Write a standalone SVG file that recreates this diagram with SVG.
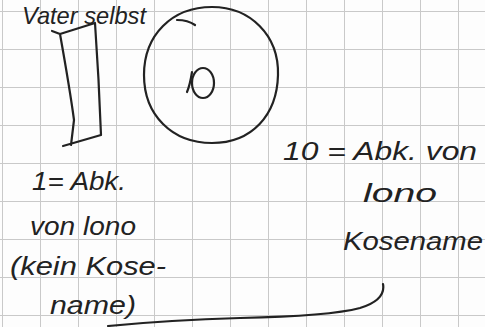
<svg xmlns="http://www.w3.org/2000/svg" width="485" height="327" viewBox="0 0 485 327">
<defs>
<pattern id="grid" x="2" y="11" width="38" height="38" patternUnits="userSpaceOnUse">
<path d="M0 0H38M0 0V38" fill="none" stroke="#c9c9c9" stroke-width="2"/>
</pattern>
<style>
.ink{fill:none;stroke:#222;stroke-width:2.2;stroke-linecap:round;stroke-linejoin:round}
.t{font-family:"Liberation Sans","DejaVu Sans",sans-serif;font-size:26px;fill:#222;font-style:italic}
</style>
</defs>
<rect width="485" height="327" fill="#fdfdfd"/>
<rect width="485" height="327" fill="url(#grid)"/>
<g id="title"><text class="t" x="22" y="24" style="font-size:24px" textLength="124" lengthAdjust="spacingAndGlyphs">Vater selbst</text></g>
<g id="node-rect">
<path class="ink" d="M52 31 L60 34 L95 23 M60 34 Q70 90 74 120 L71 145 M95 23 Q99 80 101 135 L63 146"/>
</g>
<g id="node-circle">
<path class="ink" d="M212 7 C250 7 279 35 278 75 C277 115 252 143 212 143 C172 143 144 115 144 75 C144 35 172 7 212 7 Z M177 20 Q188 20 195 25"/>
<ellipse class="ink" cx="203" cy="83" rx="11" ry="15"/>
<path class="ink" d="M192 72 Q190 85 187 92"/>
</g>
<g id="label-1">
<text class="t" x="32" y="190" textLength="94" lengthAdjust="spacingAndGlyphs">1= Abk.</text>
<text class="t" x="30" y="235" textLength="106" lengthAdjust="spacingAndGlyphs">von lono</text>
<text class="t" x="10" y="275" textLength="156" lengthAdjust="spacingAndGlyphs">(kein Kose-</text>
<text class="t" x="50" y="314" textLength="86" lengthAdjust="spacingAndGlyphs">name)</text>
</g>
<g id="label-10">
<text class="t" x="283" y="160" textLength="194" lengthAdjust="spacingAndGlyphs">10 = Abk. von</text>
<text class="t" x="363" y="202" textLength="74" lengthAdjust="spacingAndGlyphs">lono</text>
<text class="t" x="343" y="250" textLength="140" lengthAdjust="spacingAndGlyphs">Kosename</text>
</g>
<g id="connectors">
<path class="ink" d="M383 284 Q386 300 360 308 Q330 316 240 318 Q170 320 108 326"/>
</g>
</svg>
